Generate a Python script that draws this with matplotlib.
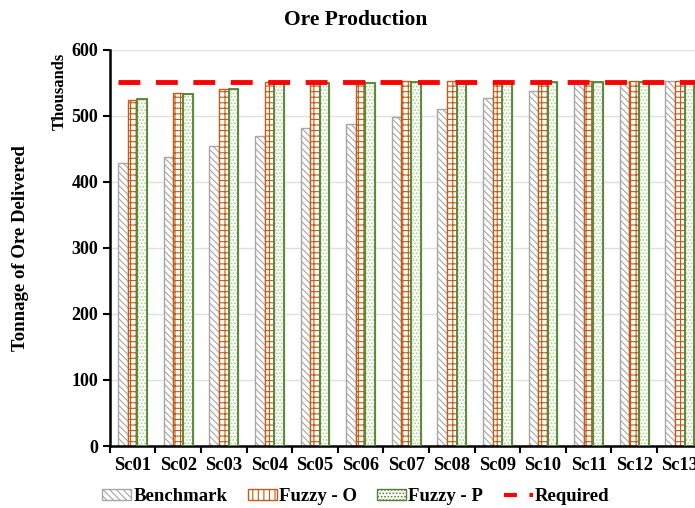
import numpy as np
import matplotlib
matplotlib.use('Agg')
import matplotlib.pyplot as plt
from matplotlib.patches import Patch
from matplotlib.lines import Line2D

plt.rcParams['font.family'] = ['Liberation Serif', 'DejaVu Serif']
plt.rcParams['font.weight'] = 'bold'
plt.rcParams['hatch.linewidth'] = 0.8

scenarios = ['Sc01', 'Sc02', 'Sc03', 'Sc04', 'Sc05', 'Sc06', 'Sc07',
             'Sc08', 'Sc09', 'Sc10', 'Sc11', 'Sc12', 'Sc13']
benchmark = [428, 438, 454, 469, 481, 488, 498, 510, 527, 538, 549, 551, 552]
fuzzy_o = [524, 534, 541, 551, 550, 552, 552, 552, 552, 552, 552, 552, 552]
fuzzy_p = [526, 533, 540, 550, 550, 550, 551, 551, 551, 551, 551, 551, 551]
required = 551

fig = plt.figure(figsize=(6.95, 5.08), dpi=100)
ax = fig.add_axes([0.158, 0.122, 0.853, 0.780])

x = np.arange(len(scenarios))
w = 0.21
ax.bar(x - w, benchmark, w, color='white', edgecolor='#A6A6A6',
       hatch='\\\\\\\\\\', linewidth=1.0, zorder=2)
ax.bar(x, fuzzy_o, w, color='white', edgecolor='#C55A11',
       hatch='+++', linewidth=1.0, zorder=2)
ax.bar(x + w, fuzzy_p, w, color='white', edgecolor='#A9D18E',
       hatch='.....', linewidth=1.0, zorder=2)
# dark green outline over the dotted fill
ax.bar(x + w, fuzzy_p, w, color='none', edgecolor='#548235',
       linewidth=1.3, zorder=3)
ax.hlines(required, x[0] - 1.5 * w, x[-1] + 0.5, colors='#FF0000',
          linewidth=3.5, linestyles=(0, (4.5, 3.2)), zorder=4)

ax.set_xlim(-0.5, len(scenarios) - 0.5)
ax.set_ylim(0, 600)
ax.set_yticks(np.arange(0, 601, 100))
ax.set_xticks(x)
ax.set_xticklabels(scenarios, fontsize=13.3, fontweight='bold')
ax.set_xticks(np.arange(-0.5, len(scenarios), 1), minor=True)
ax.tick_params(axis='x', which='major', length=0, pad=8)
ax.tick_params(axis='x', which='minor', length=5, width=1.5, direction='out')
ax.tick_params(axis='y', length=5, width=1.5, labelsize=13)
for lab in ax.get_yticklabels():
    lab.set_fontweight('bold')

ax.yaxis.grid(True, color='#E0E0E0', linewidth=1.0, zorder=0)
ax.set_axisbelow(True)
for s in ['top', 'right']:
    ax.spines[s].set_visible(False)
ax.spines['left'].set_linewidth(1.8)
ax.spines['bottom'].set_linewidth(1.8)

fig.text(0.512, 0.96, 'Ore Production', fontsize=15.5, fontweight='bold',
         ha='center', va='center')
fig.text(0.029, 0.512, 'Tonnage of Ore Delivered', rotation=90, fontsize=13.5,
         fontweight='bold', ha='center', va='center')
fig.text(0.086, 0.82, 'Thousands', rotation=90, fontsize=12,
         fontweight='bold', ha='center', va='center')

handles = [
    Patch(facecolor='white', edgecolor='#A6A6A6', hatch='\\\\\\\\\\', label='Benchmark'),
    Patch(facecolor='white', edgecolor='#C55A11', hatch='|||', label='Fuzzy - O'),
    Patch(facecolor='white', edgecolor='#548235', hatch='.....', label='Fuzzy - P'),
    Line2D([0], [0], color='#FF0000', linewidth=3, linestyle=(0, (3.1, 3.0)), label='Required'),
]
fig.legend(handles=handles, loc='center', bbox_to_anchor=(0.512, 0.022), ncol=4,
           frameon=False, handlelength=1.55, handleheight=0.55,
           handletextpad=0.1, columnspacing=1.1, prop={'weight': 'bold', 'size': 13.5})

fig.savefig('out.png', dpi=100)
